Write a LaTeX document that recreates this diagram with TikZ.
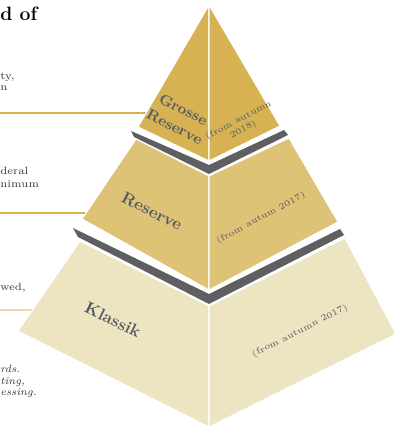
\documentclass[tikz,border=0pt]{standalone}
\usepackage{tikz}

\definecolor{topgold}{RGB}{214,178,82}
\definecolor{midgold}{RGB}{222,195,118}
\definecolor{lowgold}{RGB}{237,228,193}
\definecolor{band}{RGB}{94,95,97}
\definecolor{tiertext}{RGB}{86,92,101}
\definecolor{sidetext}{RGB}{55,55,55}
\definecolor{goldrule}{RGB}{216,180,76}
\definecolor{palerule}{RGB}{236,219,168}

\tikzset{
  face/.style={draw=white,line width=0.6pt,line join=miter},
  tiername/.style={text=tiertext,align=center,inner sep=0pt},
  since/.style={text=tiertext,align=center,inner sep=0pt,font=\fontsize{5}{6}\selectfont},
  side/.style={text=sidetext,anchor=base west,inner sep=0pt,font=\fontsize{6}{7}\selectfont},
}

\begin{document}
\begin{tikzpicture}[x=0.02cm,y=-0.02cm]
         \useasboundingbox (0,0) rectangle (393,428) ;
         %\draw[very thin,gray,step=10] (0,0) grid (393,428) ;
         % rules from the text to the tiers
         \coordinate (r1a) at (0,113) ; \coordinate (r1b) at (150,113) ;
         \coordinate (r2a) at (0,213) ; \coordinate (r2b) at (95,213) ;
         \coordinate (r3a) at (0,310) ; \coordinate (r3b) at (40,310) ;
         \draw[color=goldrule,line width=0.6pt] (r1a) -- (r1b) ;
         \draw[color=goldrule,line width=0.6pt] (r2a) -- (r2b) ;
         \draw[color=palerule,line width=0.6pt] (r3a) -- (r3b) ;
         % Klassik
         \draw[face,fill=lowgold] (80,241) -- (18,331) -- (209,427) -- (209,306) -- cycle ;
         \draw[face,fill=lowgold] (209,306) -- (345,238) -- (396,334) -- (209,427) -- cycle ;
         \fill[color=band] (73,228) -- (209,294) -- (340,229) -- (344,235) -- (209,304) -- (78,237) -- cycle ;
         % Reserve
         \draw[face,fill=midgold] (136,139) -- (82,219) -- (209,290) -- (209,176) -- cycle ;
         \draw[face,fill=midgold] (209,176) -- (289,138) -- (338,222) -- (209,290) -- cycle ;
         \fill[color=band] (131,131) -- (209,165) -- (284,130) -- (288,135) -- (209,174) -- (134,137) -- cycle ;
         % Grosse Reserve
         \draw[face,fill=topgold] (209,5) -- (138,127) -- (209,161) -- cycle ;
         \draw[face,fill=topgold] (209,5) -- (280,126) -- (209,161) -- cycle ;
         % tier names
         \node[tiername,rotate=-27,font=\bfseries\fontsize{8.5}{11}\selectfont] (gr) at (179,118) {Grosse\\Reserve} ;
         \node[tiername,rotate=-27,font=\bfseries\fontsize{9.5}{11}\selectfont] (re) at (152,211) {Reserve} ;
         \node[tiername,rotate=-26,font=\bfseries\fontsize{9.5}{11}\selectfont] (kl) at (113,320) {Klassik} ;
         \node[since,rotate=28] (grs) at (241,125) {(from autumn\\2018)} ;
         \node[since,rotate=28] (res) at (261,218) {(from autum 2017)} ;
         \node[since,rotate=27] (kls) at (300,331) {(from autumn 2017)} ;
         % text on the left
         \node[side,font=\bfseries\fontsize{11}{12}\selectfont,text=black] (head) at (0,21) {d of} ;
         \node[side] (s1) at (0,80) {ty,} ;
         \node[side] (s2) at (0,91) {n} ;
         \node[side] (s3) at (0,175) {deral} ;
         \node[side] (s4) at (0,188) {nimum} ;
         \node[side] (s5) at (0,290) {wed,} ;
         \node[side,font=\itshape\fontsize{6}{7}\selectfont] (s6) at (0,372) {rds.} ;
         \node[side,font=\itshape\fontsize{6}{7}\selectfont] (s7) at (0,384) {ting,} ;
         \node[side,font=\itshape\fontsize{6}{7}\selectfont] (s8) at (0,395) {essing.} ;
       \end{tikzpicture}
\end{document}
